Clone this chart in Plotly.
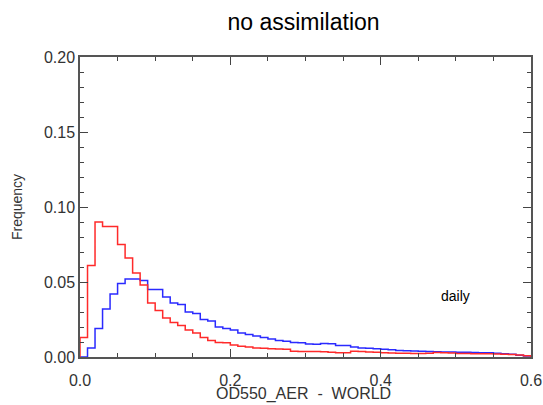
import numpy as np
import plotly.graph_objects as go

# Histogram of OD550_AER, bin width 0.01 from 0.0 to 0.6
bin_width = 0.01
x_min = 0.0
x_max = 0.6

# blue series
freq_blue = [
    0.000, 0.006, 0.019, 0.032, 0.042, 0.049, 0.052, 0.052, 0.051, 0.045,
    0.045, 0.040, 0.036, 0.035, 0.030, 0.029, 0.025, 0.024, 0.020, 0.019,
    0.018, 0.016, 0.015, 0.014, 0.013, 0.012, 0.011, 0.0105, 0.0096, 0.0095,
    0.0086, 0.0085, 0.0090, 0.0088, 0.0077, 0.0076, 0.0066, 0.0060, 0.0058, 0.0055,
    0.0051, 0.0048, 0.0044, 0.0042, 0.0040, 0.0038, 0.0037, 0.0035, 0.0034, 0.0033,
    0.0031, 0.0031, 0.0030, 0.0029, 0.0028, 0.0025, 0.0022, 0.0018, 0.0012, 0.0006,
]

# red series
freq_red = [
    0.013, 0.061, 0.090, 0.087, 0.087, 0.075, 0.066, 0.056, 0.048, 0.036,
    0.031, 0.026, 0.023, 0.021, 0.018, 0.016, 0.013, 0.011, 0.0096, 0.0095,
    0.0080, 0.0072, 0.0066, 0.0060, 0.0058, 0.0055, 0.0054, 0.0052, 0.0038, 0.0036,
    0.0037, 0.0036, 0.0035, 0.0032, 0.0029, 0.0029, 0.0038, 0.0037, 0.0033, 0.0031,
    0.0028, 0.0026, 0.0025, 0.0025, 0.0024, 0.0024, 0.0025, 0.0030, 0.0028, 0.0026,
    0.0024, 0.0023, 0.0022, 0.0021, 0.0021, 0.0020, 0.0019, 0.0017, 0.0013, 0.0008,
]

x_ticks = [0.0, 0.2, 0.4, 0.6]
y_ticks = [0.00, 0.05, 0.10, 0.15, 0.20]


def step_xy(freqs):
    # left bin edges + closing edge, start and end on zero like IDL psym=10
    edges = x_min + bin_width * np.arange(len(freqs) + 1)
    xs = np.concatenate([[edges[0]], edges])
    ys = np.concatenate([[0.0], freqs, [0.0]])
    return xs, ys


fig = go.Figure()
for freqs, col in [(freq_blue, "#2a2aff"), (freq_red, "#ff2a2a")]:
    xs, ys = step_xy(freqs)
    fig.add_trace(go.Scatter(
        x=xs, y=ys, mode="lines",
        line=dict(color=col, width=1.5, shape="hv"),
        showlegend=False,
    ))

fnt = "Liberation Sans, Arial, sans-serif"
axis_font = dict(family=fnt, size=16, color="#333333")

fig.update_layout(
    width=543, height=405,
    margin=dict(l=80, r=12, t=57, b=48),
    plot_bgcolor="white", paper_bgcolor="white",
    title=dict(
        text="no assimilation", x=0.559, xanchor="center", y=0.946, yanchor="middle",
        font=dict(family=fnt, size=23, color="black"),
    ),
    annotations=[
        dict(text="daily", x=0.5, y=0.041, xref="x", yref="y", showarrow=False,
             xanchor="center", yanchor="middle",
             font=dict(family=fnt, size=14, color="black")),
        # x axis title, placed by hand below the tick labels
        dict(text="OD550_AER  -  WORLD", x=0.495, y=-0.124, xref="paper", yref="paper",
             showarrow=False, xanchor="center", yanchor="middle",
             font=dict(family=fnt, size=16, color="#333333")),
    ],
)
fig.update_xaxes(
    range=[x_min, x_max], tickvals=x_ticks, ticktext=["%.1f" % v for v in x_ticks],
    ticks="inside", ticklen=8, tickwidth=1.2, tickcolor="#444444",
    minor=dict(dtick=0.05, tick0=0, ticks="inside", ticklen=4, tickcolor="#444444"),
    showline=True, linecolor="#555555", linewidth=1.5, mirror="allticks",
    showgrid=False, zeroline=False, tickfont=axis_font, automargin=False,
    ticklabelstandoff=8,
)
fig.update_yaxes(
    range=[0, 0.2], tickvals=y_ticks, ticktext=["%.2f" % v for v in y_ticks],
    ticks="inside", ticklen=8, tickwidth=1.2, tickcolor="#444444",
    minor=dict(dtick=0.01, tick0=0, ticks="inside", ticklen=4, tickcolor="#444444"),
    showline=True, linecolor="#555555", linewidth=1.5, mirror="allticks",
    showgrid=False, zeroline=False, tickfont=axis_font, automargin=False,
    title=dict(text="Frequency", font=dict(family=fnt, size=14, color="#333333"), standoff=18),
)

# drop the default body margin so the figure fills the window exactly
fig.write_html("out.html", config={"displayModeBar": False},
               post_script="document.body.style.margin='0';")
